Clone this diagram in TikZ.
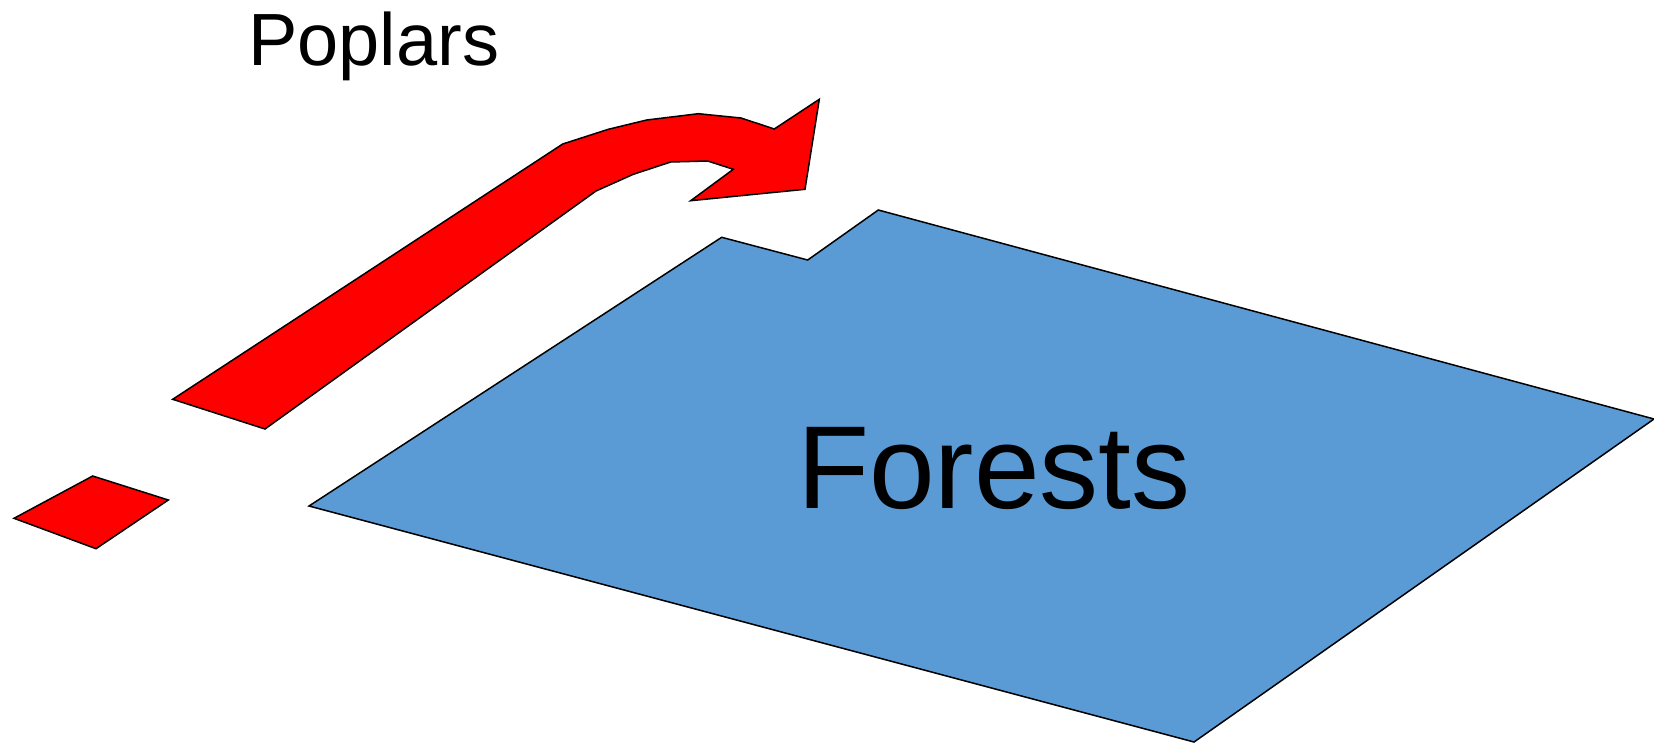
\documentclass[tikz,border=0pt]{standalone}
\usepackage{fontspec}
\setmainfont{Liberation Sans}
\definecolor{forestblue}{HTML}{5B9BD5}
\definecolor{poplarred}{HTML}{FF0000}
\begin{document}
\begin{tikzpicture}[x=1pt,y=-1pt,
  shapeline/.style={draw=black,line width=1.5pt,line join=miter},
  bluearea/.style={shapeline,fill=forestblue},
  redarea/.style={shapeline,fill=poplarred},
  label/.style={anchor=base west,inner sep=0pt,text=black}]
\useasboundingbox (0,0) rectangle (1654,742);
% Forests area
\path[bluearea] (309,506) -- (721.7,237.3) -- (807.7,260) -- (878.3,210) -- (1654,419) -- (1194,742) -- cycle;
% small red parcel
\path[redarea] (14,518.3) -- (92.7,476) -- (168.3,500) -- (96,548.7) -- cycle;
% red arrow
\path[redarea] (172.7,399.3) -- (562.7,144) -- (608.3,129.3) -- (646.7,120) -- (698.3,113.7)
  -- (741,118) -- (774.3,129) -- (819.3,99.3) -- (805,189.3) -- (690.7,200.7)
  -- (733.3,169.3) -- (707.7,161) -- (670.7,162) -- (633.3,174.3) -- (596,191)
  -- (265,429) -- cycle;
\node[label,font=\fontsize{74}{88}\selectfont] (poplars) at (248,65.5) {Poplars};
\node[label,font=\fontsize{118}{140}\selectfont] (forests) at (797,508) {Forests};
\end{tikzpicture}
\end{document}
